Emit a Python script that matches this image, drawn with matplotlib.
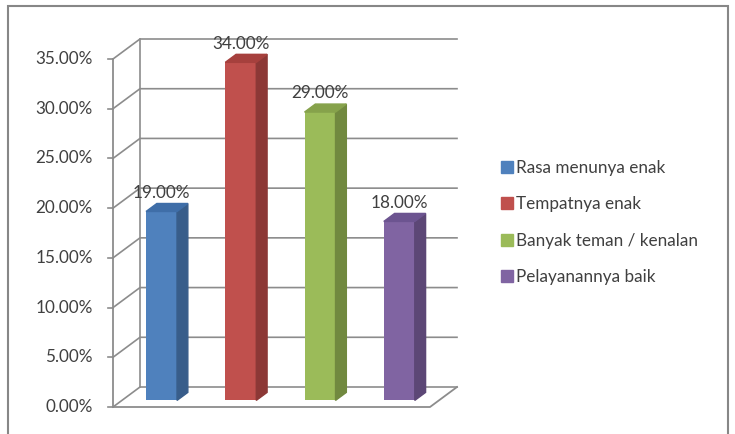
import matplotlib.pyplot as plt
from matplotlib.patches import Patch, Rectangle

categories = ["Rasa menunya enak", "Tempatnya enak", "Banyak teman / kenalan", "Pelayanannya baik"]
values = [19.0, 34.0, 29.0, 18.0]
ticks = [0, 5, 10, 15, 20, 25, 30, 35]

front = ["#4F81BD", "#C0504D", "#9BBB59", "#8064A2"]
side = ["#385D8A", "#8C3836", "#71893F", "#5C4776"]
top = ["#3F6EA8", "#A6403D", "#86A24B", "#6C5490"]

plt.rcParams["font.family"] = ["Lato", "DejaVu Sans"]

fig = plt.figure(figsize=(7.35, 4.34), dpi=100)
W, H = 735, 434
x0, x1, y0, y1 = 113, 430, 407, 59
ax = fig.add_axes([x0 / W, 1 - y0 / H, (x1 - x0) / W, (y0 - y1) / H])
ax.set_xlim(-0.5, 3.5)
ax.set_ylim(0, 35)
ax.axis("off")

# depth of the 3d box in data units
ppx = (x1 - x0) / 4.0
ppy = (y0 - y1) / 35.0
DX = 27 / ppx
DY = 20 / ppy
gcol = "#8C8C8C"
tcol = "#404040"
fs = 12.3

# back wall grid + left wall diagonals
for v in ticks:
    ax.plot([-0.5, -0.5 + DX, 3.5 + DX], [v, v + DY, v + DY], color=gcol, lw=1.2, clip_on=False)
    ax.plot([-0.5 - 5 / ppx, -0.5], [v, v], color=gcol, lw=1.2, clip_on=False)
ax.plot([-0.5, -0.5], [0, 35], color=gcol, lw=1.3, clip_on=False)
ax.plot([-0.5 + DX, -0.5 + DX], [DY, 35 + DY], color=gcol, lw=1.2, clip_on=False)
ax.plot([-0.5, 3.5, 3.5 + DX], [0, 0, DY], color=gcol, lw=1.3, clip_on=False)

for v in ticks:
    ax.text(-0.5 - 20 / ppx, v, f"{v:.2f}%", ha="right", va="center",
            fontsize=fs, color=tcol)

# bars at about a third of the depth
fx, fy = 0.33 * DX, 0.33 * DY
w = 31 / ppx
bdx, bdy = 0.4 * DX, 0.4 * DY
xs = [i + fx for i in range(len(values))]
ax.bar(xs, values, width=w, bottom=fy, color=front, zorder=3)
for i, v in enumerate(values):
    r = xs[i] + w / 2
    l = xs[i] - w / 2
    ax.fill([r, r + bdx, r + bdx, r], [fy, fy + bdy, v + fy + bdy, v + fy],
            color=side[i], zorder=3, clip_on=False)
    ax.fill([l, l + bdx, r + bdx, r], [v + fy, v + fy + bdy, v + fy + bdy, v + fy],
            color=top[i], zorder=3, clip_on=False)
    ax.annotate(f"{v:.2f}%", (xs[i], v + fy + bdy), xytext=(0, 2),
                textcoords="offset points", ha="center", va="bottom",
                fontsize=fs, color=tcol, annotation_clip=False)

handles = [Patch(color=c) for c in front]
fig.legend(handles, categories, loc="upper left", bbox_to_anchor=(494 / W, 1 - 153 / H),
           frameon=False, fontsize=fs, labelcolor=tcol, handlelength=0.7,
           handleheight=0.7, handletextpad=0.2, labelspacing=1.2, borderaxespad=0)

fig.patches.append(Rectangle((8 / W, -0.05), 720 / W, 1 - 6 / H + 0.05,
                             transform=fig.transFigure, fill=False,
                             edgecolor="#878787", lw=1.5))

fig.savefig("out.png", dpi=100)
